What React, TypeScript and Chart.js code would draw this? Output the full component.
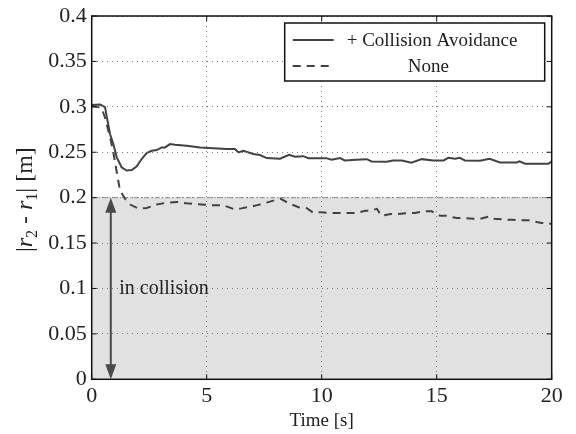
import React, { useEffect, useRef } from 'react';
import { Chart, registerables } from 'chart.js';

Chart.register(...registerables);

// ---- data ----
const caTime = [0, 0.36, 0.58, 0.65, 0.8, 0.94, 1.09, 1.3, 1.52, 1.74, 1.96, 2.17, 2.39, 2.61, 2.83, 3.04, 3.19, 3.4, 3.62, 4.13, 4.71, 5.29, 5.87, 6.23, 6.38, 6.59, 7.03, 7.32, 7.61, 8.19, 8.58, 8.84, 9.2, 9.42, 10.2, 10.43, 10.8, 11.0, 11.5, 11.96, 12.17, 12.83, 13.1, 13.48, 13.9, 14.35, 14.85, 15.3, 15.5, 15.8, 16.0, 16.23, 16.88, 17.3, 17.75, 18.48, 18.6, 18.84, 19.86, 20];
const caDist = [0.302, 0.3025, 0.2996, 0.2898, 0.2698, 0.259, 0.2444, 0.2335, 0.2298, 0.2305, 0.2345, 0.2425, 0.2491, 0.2516, 0.2524, 0.2553, 0.2553, 0.259, 0.2582, 0.2571, 0.2553, 0.2545, 0.2535, 0.2535, 0.2498, 0.2516, 0.248, 0.2469, 0.2436, 0.2428, 0.2471, 0.245, 0.2457, 0.2435, 0.2435, 0.2417, 0.2435, 0.241, 0.2417, 0.2424, 0.2399, 0.2395, 0.241, 0.241, 0.2384, 0.2424, 0.241, 0.241, 0.2438, 0.2428, 0.2438, 0.241, 0.2406, 0.2428, 0.2388, 0.2388, 0.2399, 0.2373, 0.2373, 0.2399];

const noneTime = [0, 0.43, 0.58, 0.8, 0.94, 1.09, 1.23, 1.45, 1.67, 2.03, 2.39, 2.83, 3.26, 3.7, 4.13, 4.57, 4.93, 5.2, 5.7, 6.2, 6.5, 7.0, 7.2, 7.6, 8.0, 8.2, 8.45, 8.7, 9.0, 9.35, 9.6, 10.0, 10.4, 10.8, 11.45, 11.9, 12.1, 12.4, 12.6, 13.0, 13.3, 13.7, 14.05, 14.42, 14.78, 15.15, 15.4, 15.87, 16.16, 16.6, 16.9, 17.3, 17.5, 18.04, 18.26, 18.77, 18.99, 19.56, 19.78, 20];
const noneDist = [0.301, 0.299, 0.288, 0.266, 0.25, 0.228, 0.208, 0.1989, 0.1924, 0.188, 0.1887, 0.1924, 0.1945, 0.1953, 0.1938, 0.1927, 0.1922, 0.1915, 0.1918, 0.1872, 0.1882, 0.1905, 0.1918, 0.1945, 0.1975, 0.199, 0.1955, 0.1925, 0.1894, 0.1884, 0.184, 0.184, 0.183, 0.183, 0.183, 0.1855, 0.1855, 0.1877, 0.18, 0.182, 0.182, 0.183, 0.183, 0.185, 0.185, 0.18, 0.18, 0.1775, 0.1775, 0.1768, 0.1768, 0.1793, 0.1768, 0.1757, 0.1757, 0.175, 0.175, 0.172, 0.172, 0.171];

const xTickValues = [0, 5, 10, 15, 20];
const xTickLabels = ['0', '5', '10', '15', '20'];
const yTickValues = [0, 0.05, 0.1, 0.15, 0.2, 0.25, 0.3, 0.35, 0.4];
const yTickLabels = ['0', '0.05', '0.1', '0.15', '0.2', '0.25', '0.3', '0.35', '0.4'];

const collisionLimit = 0.2;
const timeRange = [0, 20];
const arrowTime = 0.83;
const collisionLabel = 'in collision';
const collisionLabelTime = 1.2;
const collisionLabelValue = 0.1;
const legendLabels = ['+ Collision Avoidance', 'None'];
const xTitle = 'Time [s]';

// ---- styling ----
const FONT = '"Liberation Serif", "Times New Roman", serif';
const LINE = '#424242';
const TEXT = '#222';

function labelFor(values: number[], labels: string[], v: number) {
  const i = values.findIndex((t) => Math.abs(t - v) < 1e-9);
  return i >= 0 ? labels[i] : '';
}

const decorPlugin = {
  id: 'decor',
  afterDraw(chart: any) {
    const { ctx, chartArea: ca, scales } = chart;
    const x = scales.x;
    const y = scales.y;
    ctx.save();

    // arrow (double headed) spanning the collision zone
    const ax = x.getPixelForValue(arrowTime);
    const yb = y.getPixelForValue(0);
    const yt = y.getPixelForValue(collisionLimit);
    const hl = 15;
    const hw = 5.5;
    ctx.strokeStyle = '#4a4a4a';
    ctx.fillStyle = '#4a4a4a';
    ctx.lineWidth = 2;
    ctx.beginPath();
    ctx.moveTo(ax, yt + hl - 1);
    ctx.lineTo(ax, yb - hl + 1);
    ctx.stroke();
    ctx.beginPath();
    ctx.moveTo(ax, yt);
    ctx.lineTo(ax - hw, yt + hl);
    ctx.lineTo(ax + hw, yt + hl);
    ctx.closePath();
    ctx.fill();
    ctx.beginPath();
    ctx.moveTo(ax, yb);
    ctx.lineTo(ax - hw, yb - hl);
    ctx.lineTo(ax + hw, yb - hl);
    ctx.closePath();
    ctx.fill();

    // annotation text
    ctx.fillStyle = TEXT;
    ctx.font = `20px ${FONT}`;
    ctx.textAlign = 'left';
    ctx.textBaseline = 'middle';
    ctx.fillText(collisionLabel, x.getPixelForValue(collisionLabelTime), y.getPixelForValue(collisionLabelValue));

    // axes box
    ctx.strokeStyle = '#111';
    ctx.lineWidth = 1.5;
    ctx.strokeRect(ca.left, ca.top, ca.right - ca.left, ca.bottom - ca.top);

    // inward tick marks on all four sides
    ctx.lineWidth = 1;
    const tl = 5;
    ctx.beginPath();
    xTickValues.forEach((v) => {
      const px = x.getPixelForValue(v);
      ctx.moveTo(px, ca.bottom);
      ctx.lineTo(px, ca.bottom - tl);
      ctx.moveTo(px, ca.top);
      ctx.lineTo(px, ca.top + tl);
    });
    yTickValues.forEach((v) => {
      const py = y.getPixelForValue(v);
      ctx.moveTo(ca.left, py);
      ctx.lineTo(ca.left + tl, py);
      ctx.moveTo(ca.right, py);
      ctx.lineTo(ca.right - tl, py);
    });
    ctx.stroke();

    // legend box
    const lw = 260;
    const lh = 58;
    const lx = ca.right - 7 - lw;
    const ly = ca.top + 7;
    ctx.fillStyle = '#fff';
    ctx.fillRect(lx, ly, lw, lh);
    ctx.strokeStyle = '#111';
    ctx.lineWidth = 1.5;
    ctx.strokeRect(lx, ly, lw, lh);
    const r1 = ly + 17;
    const r2 = ly + 43;
    ctx.strokeStyle = LINE;
    ctx.lineWidth = 2;
    ctx.setLineDash([]);
    ctx.beginPath();
    ctx.moveTo(lx + 8, r1);
    ctx.lineTo(lx + 49, r1);
    ctx.stroke();
    ctx.setLineDash([8, 6]);
    ctx.beginPath();
    ctx.moveTo(lx + 8, r2);
    ctx.lineTo(lx + 50, r2);
    ctx.stroke();
    ctx.setLineDash([]);
    ctx.fillStyle = TEXT;
    ctx.font = `19px ${FONT}`;
    ctx.textBaseline = 'middle';
    ctx.textAlign = 'left';
    ctx.fillText(legendLabels[0], lx + 62, r1 + 1);
    ctx.fillText(legendLabels[1], lx + 123, r2 + 1);

    // y-axis label |r2 - r1| [m] with italic r and subscripts
    const parts: [string, string, number][] = [
      ['|', `24px ${FONT}`, 0],
      ['r', `italic 24px ${FONT}`, 0],
      ['2', `16px ${FONT}`, 5],
      [' - ', `24px ${FONT}`, 0],
      ['r', `italic 24px ${FONT}`, 0],
      ['1', `16px ${FONT}`, 5],
      ['|', `24px ${FONT}`, 0],
      [' [m]', `24px ${FONT}`, 0],
    ];
    let total = 0;
    const widths = parts.map(([t, f]) => {
      ctx.font = f;
      const w = ctx.measureText(t).width;
      total += w;
      return w;
    });
    ctx.translate(32, (ca.top + ca.bottom) / 2 + 2);
    ctx.rotate(-Math.PI / 2);
    ctx.textBaseline = 'alphabetic';
    ctx.textAlign = 'left';
    ctx.fillStyle = TEXT;
    let pen = -total / 2;
    parts.forEach(([t, f, dy], i) => {
      ctx.font = f;
      ctx.fillText(t, pen, dy);
      pen += widths[i];
    });

    ctx.restore();
  },
};

export default function App() {
  const ref = useRef<HTMLCanvasElement | null>(null);

  useEffect(() => {
    if (!ref.current) return;
    const chart = new Chart(ref.current, {
      type: 'line',
      data: {
        datasets: [
          {
            label: '+ Collision Avoidance',
            data: caTime.map((t, i) => ({ x: t, y: caDist[i] })),
            borderColor: LINE,
            borderWidth: 2,
            pointRadius: 0,
            tension: 0,
            fill: false,
          },
          {
            label: 'None',
            data: noneTime.map((t, i) => ({ x: t, y: noneDist[i] })),
            borderColor: LINE,
            borderWidth: 2,
            borderDash: [8, 6],
            pointRadius: 0,
            tension: 0,
            fill: false,
          },
          {
            label: 'collision zone',
            data: timeRange.map((t) => ({ x: t, y: collisionLimit })),
            borderColor: '#8c8c8c',
            borderWidth: 1,
            borderDash: [5, 2, 1.5, 2],
            backgroundColor: '#e1e1e1',
            pointRadius: 0,
            fill: 'origin',
            order: 10,
          },
        ],
      },
      options: {
        responsive: false,
        animation: false,
        events: [],
        layout: { padding: { top: 13.3, right: 24.3, left: 0, bottom: 0 } },
        plugins: {
          legend: { display: false },
          tooltip: { enabled: false },
          title: { display: false },
        },
        scales: {
          x: {
            type: 'linear',
            min: 0,
            max: 20,
            afterFit: (s: any) => {
              s.height = 54.7;
            },
            afterBuildTicks: (s: any) => {
              s.ticks = xTickValues.map((v) => ({ value: v }));
            },
            ticks: {
              padding: 6,
              color: TEXT,
              font: { family: FONT, size: 22, lineHeight: 1 },
              maxRotation: 0,
              callback: (v: any) => labelFor(xTickValues, xTickLabels, Number(v)),
            },
            grid: {
              color: '#7a7a7a',
              lineWidth: 1,
              drawTicks: false,
              z: 1,
            },
            border: { display: false, dash: [1, 4] },
            title: {
              display: true,
              text: xTitle,
              color: TEXT,
              font: { family: FONT, size: 19, lineHeight: 1.2 },
              padding: { top: 0, bottom: 2 },
            },
          },
          y: {
            type: 'linear',
            min: 0,
            max: 0.4,
            afterFit: (s: any) => {
              s.width = 91.7;
            },
            afterBuildTicks: (s: any) => {
              s.ticks = yTickValues.map((v) => ({ value: v }));
            },
            ticks: {
              padding: 5,
              color: TEXT,
              font: { family: FONT, size: 22, lineHeight: 1 },
              callback: (v: any) => labelFor(yTickValues, yTickLabels, Number(v)),
            },
            grid: {
              color: '#7a7a7a',
              lineWidth: 1,
              drawTicks: false,
              z: 1,
            },
            border: { display: false, dash: [1, 4] },
          },
        },
      },
      plugins: [decorPlugin],
    });
    return () => chart.destroy();
  }, []);

  return (
    <div style={{ position: 'fixed', left: 0, top: 0, width: 576, height: 434, background: '#fff' }}>
      <canvas ref={ref} width={576} height={434} style={{ display: 'block' }} />
    </div>
  );
}
